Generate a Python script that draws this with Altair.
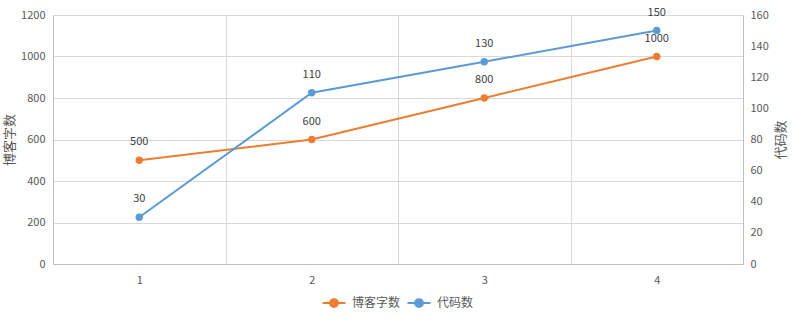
import altair as alt
import pandas as pd

x_labels = ["1", "2", "3", "4"]
blog_words = [500, 600, 800, 1000]
code_counts = [30, 110, 130, 150]
series_names = ["博客字数", "代码数"]
colors = ["#ED7D31", "#5B9BD5"]

df_blog = pd.DataFrame({"x": x_labels, "value": blog_words, "series": series_names[0]})
df_code = pd.DataFrame({"x": x_labels, "value": code_counts, "series": series_names[1]})

FONT = "Noto Sans CJK SC"
LBL = "#595959"

x_enc = alt.X(
    "x:O",
    scale=alt.Scale(type="band", paddingInner=0, paddingOuter=0),
    axis=alt.Axis(title=None, labelAngle=0, ticks=False, grid=True, tickBand="extent",
                  domainColor="#bfbfbf", gridColor="#d9d9d9", labelPadding=10,
                  labelColor=LBL, labelFontSize=11),
)

color_enc = alt.Color(
    "series:N",
    scale=alt.Scale(domain=series_names, range=colors),
    legend=alt.Legend(
        title=None, orient="none", direction="horizontal", legendX=268, legendY=275,
        symbolType="M-1,0L1,0M-0.34,0A0.34,0.34,0,1,1,0.34,0A0.34,0.34,0,1,1,-0.34,0Z",
        symbolSize=530, symbolStrokeWidth=2, labelFontSize=12, labelColor=LBL,
        columnPadding=2, labelOffset=5,
    ),
)

def series_layer(df, y_axis, dom):
    y = alt.Y("value:Q", scale=alt.Scale(domain=dom, nice=False, zero=True), axis=y_axis)
    base = alt.Chart(df).encode(x=x_enc, y=y, color=color_enc)
    line = base.mark_line(strokeWidth=2)
    pts = base.mark_circle(size=55, opacity=1)
    txt = base.mark_text(dy=-18, fontSize=11, color="#404040", font=FONT).encode(
        text="value:Q", color=alt.value("#404040"))
    return alt.layer(line, pts, txt)

left_axis = alt.Axis(title="博客字数", values=list(range(0, 1201, 200)), format="d", ticks=False,
                     domainColor="#bfbfbf", gridColor="#d9d9d9", labelPadding=8,
                     labelColor=LBL, labelFontSize=11, titleColor=LBL, titleFontSize=13,
                     titleFontWeight="normal", titlePadding=4, titleAngle=270)
right_axis = alt.Axis(title="代码数", orient="right", values=list(range(0, 161, 20)), format="d",
                      ticks=False, grid=False, domainColor="#bfbfbf", labelPadding=7,
                      labelColor=LBL, labelFontSize=11, titleColor=LBL, titleFontSize=13,
                      titleFontWeight="normal", titlePadding=6, titleAngle=270,
                      titleBaseline="top")

blog = series_layer(df_blog, left_axis, [0, 1200])
code = series_layer(df_code, right_axis, [0, 160])

chart = alt.layer(blog, code).resolve_scale(y="independent").properties(
    width=690, height=249,
    autosize=alt.AutoSizeParams(type="none"),
    padding={"left": 53, "top": 15, "right": 54, "bottom": 55},
    background="white",
).configure_view(stroke=None).configure(font=FONT)

chart.save("out.html", embed_options={"renderer": "svg", "actions": False})
